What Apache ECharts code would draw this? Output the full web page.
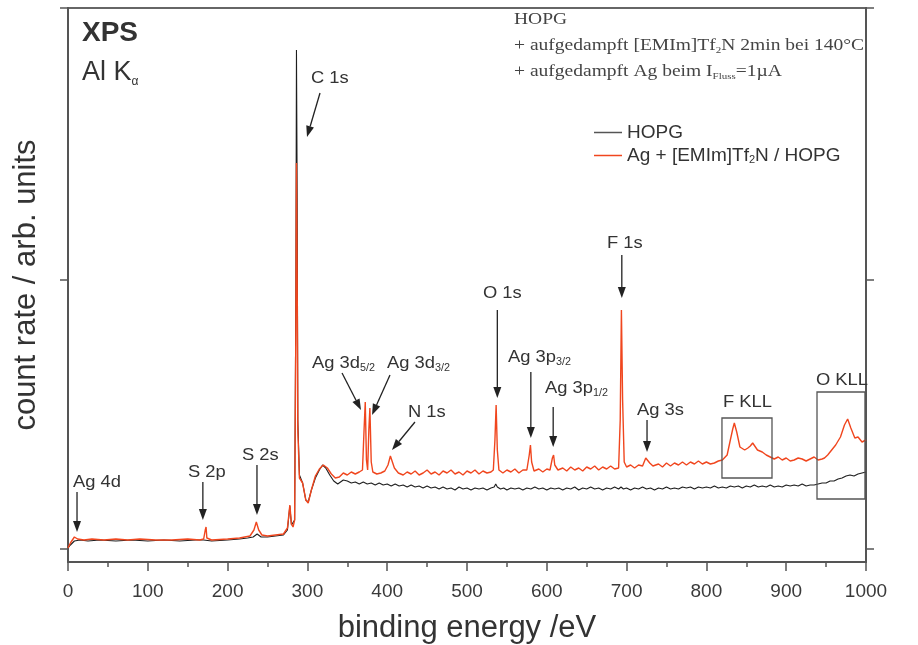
<!DOCTYPE html>
<html><head><meta charset="utf-8">
<script src="https://cdn.jsdelivr.net/npm/echarts@6/dist/echarts.min.js"></script>
<style>html,body{margin:0;padding:0;background:#fff}#c{width:918px;height:645px}</style>
</head><body><div id="c"></div>
<script>
// ---- data (binding energy eV, intensity arb. units) ----
const seriesNames = ['HOPG', 'Ag + [EMIm]Tf2N / HOPG'];
const yTickValues = [0, 269, 541];
const hopgData = [
[0,1],[3,4],[8,8],[15,9],[25,8],[40,9],[60,8],[80,9],[100,8],[120,9],[140,8],[160,9],[170,9],[180,8],[200,9],[215,10],[225,11],[232,12],[237,15],[242,12],[250,12],[260,13],[270,14],[275,19],[278,43],[280,24],[282,22],[284,29],[285.5,249],[286.3,499],[287.2,349],[288,129],[290,74],[294,66],[298,49],[301,47],[305,59],[310,71],[315,79],[319,84],[323,81],[328,74],[333,68],[338,65],[345,69],[350,68],[355,66],[360,67],[365,65],[370,67],[375,65],[380,66],[385,64],[390,66],[395,64],[400,65],[405,63],[410,65],[415,63],[420,64],[425,62],[430,64],[435,62],[440,63],[445,61],[450,63],[455,61],[460,62],[465,60],[470,62],[475,60],[480,61],[485,59],[490,62],[495,60],[500,61],[505,59],[510,61],[515,60],[520,61],[525,59],[530,61],[534,62],[536,65],[538,62],[542,60],[546,61],[550,59],[555,61],[560,60],[565,61],[570,59],[575,61],[580,60],[585,62],[590,60],[595,61],[600,59],[605,61],[610,60],[615,61],[620,59],[625,61],[630,60],[635,62],[640,59],[645,61],[650,60],[655,62],[660,60],[665,61],[670,59],[675,61],[680,60],[685,62],[690,60],[693,62],[696,60],[700,61],[705,59],[710,61],[715,60],[720,62],[725,60],[730,61],[735,59],[740,61],[745,60],[750,62],[755,60],[760,61],[765,60],[770,62],[775,61],[780,62],[785,60],[790,62],[795,61],[800,62],[805,61],[810,63],[815,61],[820,62],[825,61],[830,63],[835,62],[840,63],[845,61],[850,63],[855,62],[860,64],[865,62],[870,63],[875,62],[880,64],[885,62],[890,63],[895,62],[900,64],[905,63],[910,64],[915,63],[920,65],[925,63],[930,64],[935,64],[940,65],[945,66],[950,66],[955,68],[960,68],[965,70],[970,71],[975,73],[980,74],[985,73],[990,75],[995,76],[1000,77]
];
const agData = [
[0,1],[3,6],[8,12],[12,10],[20,9],[30,10],[45,9],[60,10],[75,9],[90,10],[110,9],[130,9],[150,10],[165,9],[170,10],[172,19],[173,22],[174,11],[180,9],[200,10],[215,11],[228,13],[233,19],[236,27],[239,19],[243,14],[250,13],[260,14],[270,15],[275,21],[278,44],[280,25],[282,22],[284,29],[285.5,219],[286.3,386],[287.2,269],[288,119],[290,71],[294,66],[298,49],[301,46],[305,59],[310,73],[315,80],[320,84],[325,81],[330,75],[335,71],[340,72],[345,76],[350,74],[355,77],[360,75],[365,77],[369,79],[371,119],[372.5,147],[374,89],[375.5,79],[377,119],[378.3,141],[380,87],[382,77],[387,75],[392,76],[397,78],[401,84],[404,93],[406,91],[409,81],[414,76],[420,74],[425,77],[430,75],[435,78],[440,74],[445,76],[450,79],[455,75],[460,77],[465,74],[470,78],[475,76],[480,79],[485,75],[490,77],[495,74],[500,78],[505,76],[510,79],[515,75],[520,78],[525,76],[530,77],[533,79],[535,109],[536.5,144],[538,99],[540,79],[545,76],[550,79],[555,77],[560,80],[565,76],[570,79],[575,79],[578,94],[579.5,104],[581,87],[584,78],[590,80],[595,77],[600,80],[604,79],[607,91],[608.5,94],[610,84],[614,79],[620,81],[625,78],[630,82],[635,79],[640,81],[645,78],[650,82],[655,80],[660,83],[665,79],[670,82],[675,80],[680,83],[685,80],[690,81],[692,129],[693.5,239],[695,149],[697,87],[700,82],[705,84],[710,81],[715,84],[720,83],[724,91],[726,93],[729,86],[733,83],[740,85],[745,82],[750,86],[755,83],[760,86],[765,84],[770,87],[775,84],[780,87],[785,85],[790,88],[795,85],[800,87],[805,85],[810,86],[815,88],[820,89],[826,94],[830,109],[833,120],[835,126],[838,117],[842,102],[848,99],[852,101],[855,103],[858,106],[860,107],[864,99],[870,97],[875,94],[880,92],[885,90],[890,92],[895,89],[900,91],[905,88],[910,89],[915,91],[920,90],[925,88],[930,90],[935,92],[940,89],[945,90],[948,91],[952,94],[955,97],[958,100],[962,104],[965,108],[968,112],[973,124],[977,130],[981,121],[986,111],[990,112],[995,107],[1000,109]
];
// peak annotations in data coordinates [eV, intensity]
const peakLabels = [
 {text:'C 1s', pos:[304.5,471]},
 {text:'Ag 3d{s|5/2}', pos:[305.8,186]},
 {text:'Ag 3d{s|3/2}', pos:[399.7,186]},
 {text:'N 1s', pos:[426,137]},
 {text:'O 1s', pos:[520,256]},
 {text:'Ag 3p{s|3/2}', pos:[551.4,192]},
 {text:'Ag 3p{s|1/2}', pos:[597.7,161]},
 {text:'F 1s', pos:[675.4,306]},
 {text:'Ag 3s', pos:[713,139]},
 {text:'Ag 4d', pos:[6.3,67]},
 {text:'S 2p', pos:[150.4,77]},
 {text:'S 2s', pos:[218,94]},
 {text:'F KLL', pos:[820.8,147]},
 {text:'O KLL', pos:[937.3,169]}
];
const arrows = [
 {from:[315.8,456], to:[299.5,412]},
 {from:[343.4,176], to:[367.2,139]},
 {from:[403.5,174], to:[381,134]},
 {from:[434.8,127], to:[406,99]},
 {from:[538,239], to:[538,151]},
 {from:[580,177], to:[580,111]},
 {from:[608,142], to:[608,102]},
 {from:[694,294], to:[694,251]},
 {from:[725.6,129], to:[725.6,97]},
 {from:[11.3,57], to:[11.3,17]},
 {from:[169,67], to:[169,29]},
 {from:[236.8,84], to:[236.8,34]}
];
const boxes = [
 {x:[819.5,882.2], y:[71,131]},
 {x:[938.6,998.7], y:[50,157]}
];

const chart = echarts.init(document.getElementById('c'), null, {renderer:'canvas'});
const FONT = 'Liberation Sans, Arial, sans-serif';
const axisColor = '#555';
const yAxisBase = {
  type:'value', min:-13, max:541,
  axisLine:{show:true, onZero:false, lineStyle:{color:axisColor, width:2}},
  axisTick:{show:true, inside:false, length:8, customValues:yTickValues, lineStyle:{color:axisColor, width:1.5}},
  axisLabel:{show:false}, splitLine:{show:false}
};
chart.setOption({
  animation:false,
  backgroundColor:'#fff',
  grid:{left:68, right:52, top:8, bottom:83, containLabel:false, outerBoundsMode:'none', show:true, borderColor:'#666', borderWidth:2},
  xAxis:[{
    type:'value', min:0, max:1000, interval:100, position:'bottom',
    axisLine:{show:true, onZero:false, lineStyle:{color:axisColor, width:2}},
    axisTick:{show:true, inside:false, length:9, lineStyle:{color:axisColor, width:1.5}},
    minorTick:{show:true, splitNumber:2, length:5, lineStyle:{color:axisColor, width:1.5}},
    splitLine:{show:false}, minorSplitLine:{show:false},
    axisLabel:{fontSize:19, color:'#3a3a3a', fontFamily:FONT, margin:20, formatter:v => String(v)},
    name:'binding energy /eV', nameLocation:'middle', nameGap:51,
    nameTextStyle:{fontSize:31, color:'#333', fontFamily:FONT}
  }],
  yAxis:[
    Object.assign({}, yAxisBase, {position:'left', name:'count rate / arb. units', nameLocation:'middle', nameGap:26,
      nameTextStyle:{fontSize:31, color:'#333', fontFamily:FONT}}),
    Object.assign({}, yAxisBase, {position:'right'})
  ],
  legend:{
    left:589, top:118, orient:'vertical', icon:'rect', itemWidth:28, itemHeight:1.5, itemGap:4,
    data:seriesNames,
    formatter:function(n){ return n === seriesNames[1] ? '{a|Ag + [EMIm]Tf}{s|2}{a|N / HOPG}' : '{a|' + n + '}'; },
    textStyle:{fontFamily:FONT, color:'#333', fontSize:19, padding:[0,0,0,0],
      rich:{a:{fontSize:19, fontFamily:FONT, color:'#333', lineHeight:20}, s:{fontSize:11, fontFamily:FONT, color:'#333', lineHeight:8, verticalAlign:'bottom'}}}
  },
  series:[
    {type:'line', name:seriesNames[0], data:hopgData, symbol:'none', showSymbol:false, lineStyle:{color:'#1e1e1e', width:1.1}, itemStyle:{color:'#555'}, z:2},
    {type:'line', name:seriesNames[1], data:agData, symbol:'none', showSymbol:false, lineStyle:{color:'#f0461e', width:1.4}, itemStyle:{color:'#f0461e'}, z:3}
  ]
});

const toPx = p => chart.convertToPixel({xAxisIndex:0, yAxisIndex:0}, p);
const g = [];
const subRich = {s:{fontSize:10, fontFamily:FONT, fill:'#333', lineHeight:8, verticalAlign:'bottom'}};
peakLabels.forEach(l => {
  const p = toPx(l.pos);
  g.push({type:'text', x:p[0], y:p[1], scaleX:1.08, z:10,
    style:{text:l.text, fontSize:17, fontFamily:FONT, fill:'#333', align:'left', verticalAlign:'middle', lineHeight:20, rich:subRich}});
});
arrows.forEach(a => {
  const p1 = toPx(a.from), p2 = toPx(a.to);
  const dx = p2[0]-p1[0], dy = p2[1]-p1[1], L = Math.hypot(dx,dy);
  const ux = dx/L, uy = dy/L, hl = 11, hw = 4;
  const bx = p2[0]-ux*hl, by = p2[1]-uy*hl;
  g.push({type:'line', z:10, shape:{x1:p1[0], y1:p1[1], x2:bx, y2:by}, style:{stroke:'#222', lineWidth:1.3}});
  g.push({type:'polygon', z:10, shape:{points:[[p2[0],p2[1]],[bx-uy*hw, by+ux*hw],[bx+uy*hw, by-ux*hw]]}, style:{fill:'#222'}});
});
boxes.forEach(b => {
  const a = toPx([b.x[0], b.y[1]]), c = toPx([b.x[1], b.y[0]]);
  g.push({type:'rect', z:9, shape:{x:a[0], y:a[1], width:c[0]-a[0], height:c[1]-a[1]}, style:{fill:'none', stroke:'#555', lineWidth:1.3}});
});
// title texts
g.push({type:'text', x:82, y:33, z:10, style:{text:'XPS', fontSize:28, fontWeight:'bold', fontFamily:FONT, fill:'#333', verticalAlign:'middle'}});
g.push({type:'text', x:82, y:73, z:10, style:{text:'Al K{a|α}', fontSize:27, fontFamily:FONT, fill:'#333', verticalAlign:'middle', lineHeight:30,
  rich:{a:{fontSize:12, fontFamily:FONT, fill:'#333', lineHeight:6, verticalAlign:'bottom'}}}});
const SERIF = 'Liberation Serif, Times New Roman, serif';
const noteRich = {s:{fontSize:9, fontFamily:SERIF, fill:'#444', lineHeight:6, verticalAlign:'bottom'}};
const noteLines = ['HOPG', '+ aufgedampft [EMIm]Tf{s|2}N 2min bei 140°C', '+ aufgedampft Ag beim I{s|Fluss}=1µA'];
const noteY = [20, 46, 72];
noteLines.forEach((t,i) => {
  g.push({type:'text', x:514, y:noteY[i], scaleX:1.22, z:10, style:{text:t, fontSize:16, fontFamily:SERIF, fill:'#444', verticalAlign:'middle', lineHeight:18, rich:noteRich}});
});
chart.setOption({graphic:g});
</script>
</body></html>
